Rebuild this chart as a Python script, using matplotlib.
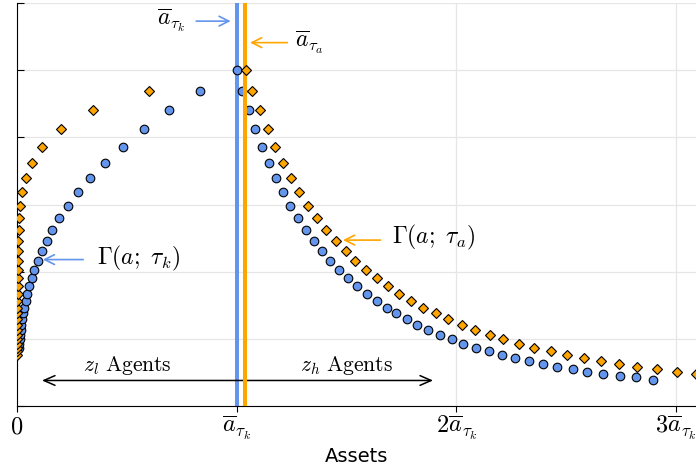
import numpy as np
import matplotlib
matplotlib.use("Agg")
import matplotlib.pyplot as plt

plt.rcParams['mathtext.fontset'] = 'cm'

# Gamma levels shared by both distributions (top to bottom)
levels = np.array([5.00, 4.69, 4.40, 4.12, 3.86, 3.62, 3.39, 3.18, 2.98, 2.80,
                   2.62, 2.46, 2.31, 2.16, 2.02, 1.90, 1.78, 1.67, 1.57, 1.46,
                   1.38, 1.29, 1.21, 1.13, 1.06, 1.00, 0.93, 0.87, 0.82, 0.76,
                   0.71, 0.67, 0.62, 0.58, 0.55, 0.51, 0.48, 0.45, 0.43, 0.39])

# assets (in units of abar_tau_k), left branch starts at levels[1], right branch at levels[0]
tau_k_left = np.array([0.833, 0.693, 0.578, 0.481, 0.401, 0.332, 0.278, 0.232, 0.193, 0.161,
                       0.135, 0.112, 0.094, 0.079, 0.067, 0.056, 0.047, 0.040, 0.033, 0.029,
                       0.024, 0.020, 0.017, 0.015, 0.012, 0.010, 0.009])
tau_k_right = np.array([1.000, 1.025, 1.057, 1.085, 1.115, 1.147, 1.179, 1.211, 1.244, 1.279,
                        1.314, 1.352, 1.388, 1.425, 1.466, 1.507, 1.549, 1.592, 1.637, 1.683,
                        1.726, 1.774, 1.822, 1.872, 1.925, 1.979, 2.031, 2.087, 2.146, 2.205,
                        2.267, 2.329, 2.393, 2.459, 2.528, 2.596, 2.669, 2.745, 2.817, 2.894])
tau_a_left = np.array([0.601, 0.347, 0.199, 0.115, 0.068, 0.041, 0.024, 0.015, 0.010, 0.007,
                       0.005, 0.004, 0.0035, 0.003, 0.0028, 0.0026, 0.0024, 0.0022, 0.002, 0.002,
                       0.002, 0.002, 0.002, 0.002, 0.002, 0.002, 0.002, 0.002, 0.002])
tau_a_right = np.array([1.040, 1.071, 1.105, 1.141, 1.174, 1.209, 1.246, 1.284, 1.325, 1.366,
                        1.408, 1.451, 1.496, 1.538, 1.589, 1.637, 1.690, 1.740, 1.792, 1.847,
                        1.906, 1.963, 2.027, 2.085, 2.153, 2.213, 2.286, 2.355, 2.429, 2.505,
                        2.581, 2.658, 2.740, 2.823, 2.912, 3.002, 3.090])

abar_k = 1.0
abar_a = 1.037

xticks = [0, 1, 2, 3]
xticklabels = [r'$0$', r'$\overline{a}_{\tau_k}$', r'$2\overline{a}_{\tau_k}$', r'$3\overline{a}_{\tau_k}$']
yticks = [0, 1, 2, 3, 4, 5, 6]

blue = '#6495ED'
orange = '#FFA500'


def branch(left, right):
    x = np.concatenate([left[::-1], right])
    y = np.concatenate([levels[1:1 + len(left)][::-1], levels[:len(right)]])
    return x, y


fig = plt.figure(figsize=(6.96, 4.72), dpi=100)
ax = fig.add_axes([17 / 696, 1 - 406 / 472, 679 / 696, 403 / 472])

xb, yb = branch(tau_k_left, tau_k_right)
xa, ya = branch(tau_a_left, tau_a_right)

ax.axvline(abar_k, color=blue, lw=2.9, zorder=2)
ax.plot(xb, yb, 'o', ms=6.2, mfc=blue, mec='black', mew=0.8, zorder=3)
ax.axvline(abar_a, color=orange, lw=2.9, zorder=4)
ax.plot(xa, ya, 'D', ms=5.3, mfc=orange, mec='black', mew=0.8, zorder=5)

ax.set_xlim(0, 3.09)
ax.set_ylim(0, 6)
ax.set_xticks(xticks)
ax.set_xticklabels(xticklabels, fontsize=17.5)
ax.set_yticks(yticks)
ax.set_yticklabels([])
ax.tick_params(axis='x', direction='out', length=4, pad=2)
ax.tick_params(axis='y', direction='in', length=5)
ax.grid(True, color='#e6e6e6', lw=0.9)
ax.set_axisbelow(True)
for s in ['top', 'right']:
    ax.spines[s].set_visible(False)
ax.set_xlabel('Assets', fontsize=14, labelpad=3)

# labels with arrows
fs = 17
ax.text(0.765, 5.67, r'$\overline{a}_{\tau_k}$', fontsize=fs, ha='right', va='baseline')
ax.annotate('', xy=(0.985, 5.73), xytext=(0.803, 5.73),
            arrowprops=dict(arrowstyle='->,head_length=0.7,head_width=0.35', color=blue, lw=1.2))
ax.text(1.265, 5.34, r'$\overline{a}_{\tau_a}$', fontsize=fs, ha='left', va='baseline')
ax.annotate('', xy=(1.048, 5.41), xytext=(1.243, 5.41),
            arrowprops=dict(arrowstyle='->,head_length=0.7,head_width=0.35', color=orange, lw=1.2))

ax.text(0.363, 2.10, r'$\Gamma(a;\ \tau_k)$', fontsize=fs, ha='left', va='baseline')
ax.annotate('', xy=(0.105, 2.18), xytext=(0.314, 2.18),
            arrowprops=dict(arrowstyle='->,head_length=0.7,head_width=0.35', color=blue, lw=1.2))
ax.text(1.705, 2.42, r'$\Gamma(a;\ \tau_a)$', fontsize=fs, ha='left', va='baseline')
ax.annotate('', xy=(1.471, 2.47), xytext=(1.667, 2.47),
            arrowprops=dict(arrowstyle='->,head_length=0.7,head_width=0.35', color=orange, lw=1.2))

# agent types
ax.annotate('', xy=(0.101, 0.38), xytext=(1.906, 0.38),
            arrowprops=dict(arrowstyle='<->,head_length=0.8,head_width=0.35', color='black', lw=1.1))
ax.text(0.302, 0.52, r'$z_l\ \mathrm{Agents}$', fontsize=15.5, ha='left', va='baseline')
ax.text(1.288, 0.52, r'$z_h\ \mathrm{Agents}$', fontsize=15.5, ha='left', va='baseline')

fig.savefig('out.png', dpi=100)
